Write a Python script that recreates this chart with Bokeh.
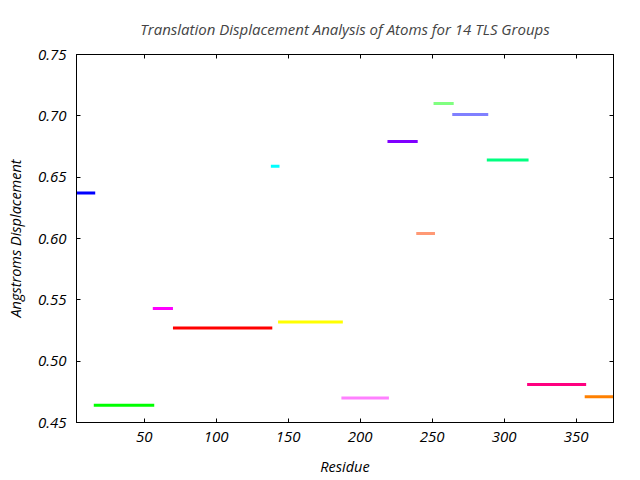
from bokeh.plotting import figure
from bokeh.models import LinearAxis, FixedTicker, Range1d, PrintfTickFormatter
from bokeh.embed import file_html
from bokeh.resources import INLINE

# TLS groups: start residue, end residue, displacement
group_start = [3, 15, 56, 70, 138, 143, 187, 219, 239, 251, 264, 288, 316, 356]
group_end = [16, 57, 70, 139, 144, 188, 220, 240, 252, 265, 289, 317, 357, 376]
displacement = [0.637, 0.464, 0.543, 0.527, 0.659, 0.532, 0.470, 0.679, 0.604,
                0.710, 0.701, 0.664, 0.481, 0.471]
group_colors = ["#0000ff", "#00ff00", "#ff00ff", "#ff0000", "#00ffff", "#ffff00",
                "#ff80ff", "#8000ff", "#ff9975", "#80ff80", "#8080ff", "#00ff80",
                "#ff0080", "#ff8000"]
x_ticks = [50, 100, 150, 200, 250, 300, 350]
y_ticks = [0.45, 0.50, 0.55, 0.60, 0.65, 0.70, 0.75]

FONT = "Open Sans"

p = figure(width=640, height=480, output_backend="svg", toolbar_location=None,
           x_range=Range1d(3, 376), y_range=Range1d(0.45, 0.75),
           x_axis_type=None, y_axis_type=None,
           min_border_left=76, min_border_right=27, min_border_top=54,
           min_border_bottom=58)

p.title.text = "Translation Displacement Analysis of Atoms for 14 TLS Groups"
p.title.text_font = FONT
p.title.text_font_style = "italic"
p.title.text_font_size = "15px"
p.title.align = "center"
p.title.offset = 0
p.title.standoff = 32
p.outline_line_color = "black"
p.outline_line_width = 1
p.background_fill_color = "white"
p.border_fill_color = "white"
p.xgrid.visible = False
p.ygrid.visible = False


def style(ax, labels=True):
    ax.major_tick_in = 4
    ax.major_tick_out = 0
    ax.minor_tick_in = 0
    ax.minor_tick_out = 0
    ax.major_tick_line_color = "black"
    ax.axis_line_color = "black"
    ax.major_label_text_font = FONT
    ax.major_label_text_font_style = "italic"
    ax.major_label_text_font_size = "15px"
    ax.major_label_text_color = "black"
    ax.axis_label_text_font = FONT
    ax.axis_label_text_font_style = "italic"
    ax.axis_label_text_font_size = "14.5px"
    ax.axis_label_text_color = "black"
    if not labels:
        ax.major_label_text_alpha = 0
        ax.major_label_text_font_size = "1px"


xb = LinearAxis(ticker=FixedTicker(ticks=x_ticks), axis_label="Residue")
style(xb)
xb.major_label_standoff = 9
xb.axis_label_standoff = 12
p.add_layout(xb, "below")

yl = LinearAxis(ticker=FixedTicker(ticks=y_ticks), axis_label="Angstroms Displacement",
                formatter=PrintfTickFormatter(format="%.2f"))
style(yl)
yl.major_label_standoff = 10
yl.axis_label_standoff = 10
p.add_layout(yl, "left")

xt = LinearAxis(ticker=FixedTicker(ticks=x_ticks))
style(xt, labels=False)
p.add_layout(xt, "above")

yr = LinearAxis(ticker=FixedTicker(ticks=y_ticks))
style(yr, labels=False)
p.add_layout(yr, "right")

p.segment(x0=group_start, y0=displacement, x1=group_end, y1=displacement,
          line_color=group_colors, line_width=3)

open("out.html", "w").write(file_html(p, INLINE))
